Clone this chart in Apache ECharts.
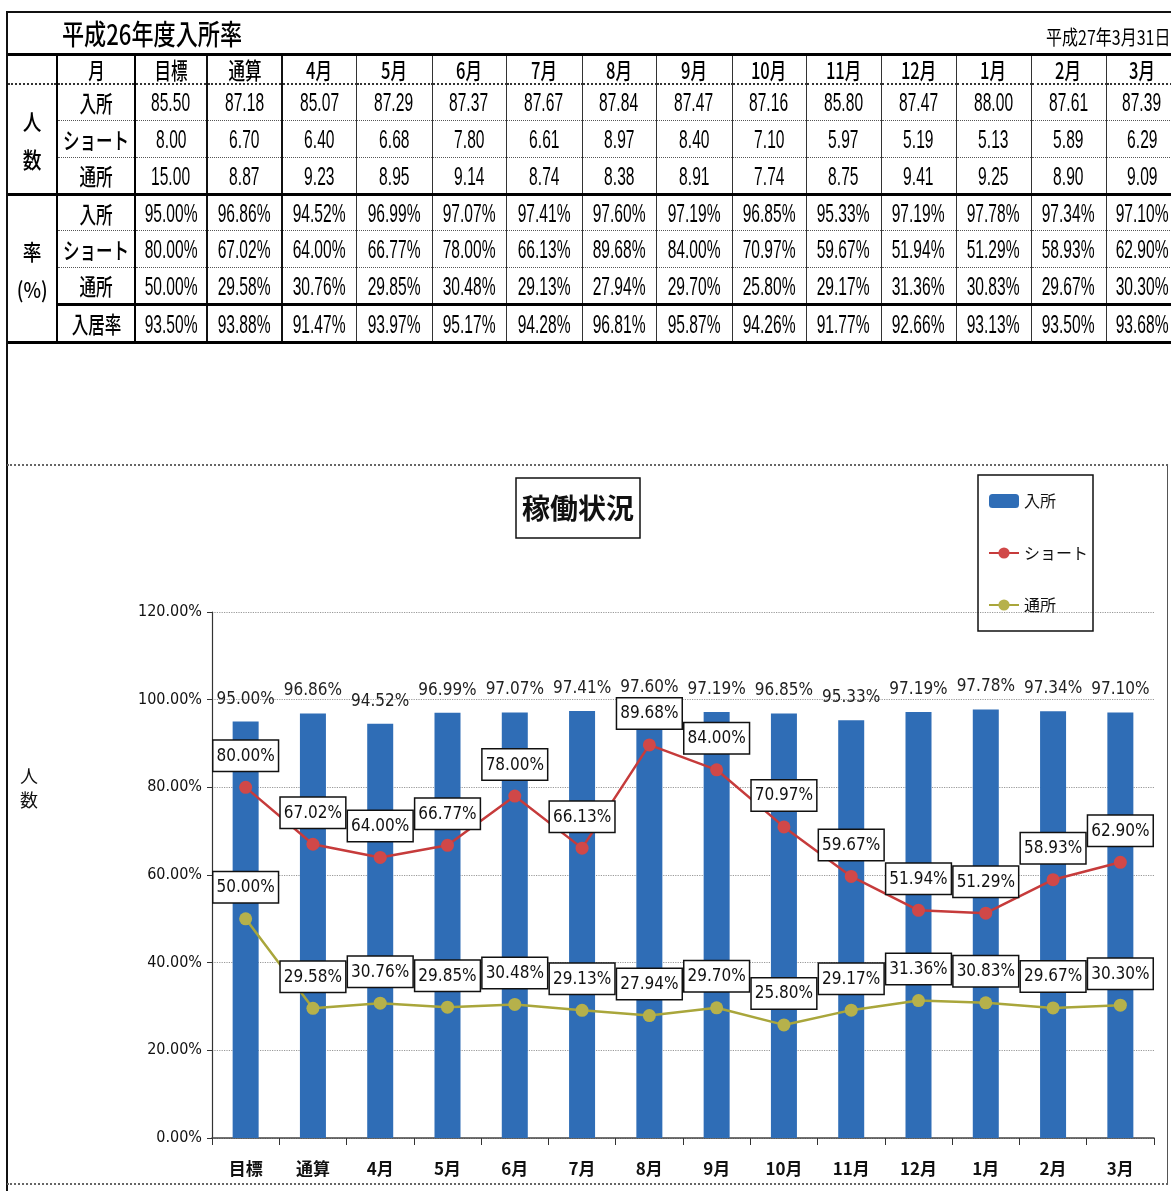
<!DOCTYPE html>
<html><head><meta charset="utf-8">
<script src="https://cdn.jsdelivr.net/npm/echarts@6/dist/echarts.min.js"></script>
<style>
html,body{margin:0;padding:0;width:1171px;height:1191px;overflow:hidden;background:#fff;}
#chart{position:absolute;left:0;top:0;width:1171px;height:1191px;}
#frame{position:absolute;left:6px;top:11px;width:1200px;height:1220px;border-left:2px solid #111;border-top:2px solid #111;box-sizing:border-box;pointer-events:none;z-index:3;}
#cbox{position:absolute;left:7px;top:464px;width:1161px;height:721px;border-top:2px dotted #666;border-right:1.5px solid #555;border-bottom:2px dotted #666;box-sizing:border-box;pointer-events:none;z-index:3;}
#ttl{position:absolute;left:62px;top:16px;font-family:'Noto Sans CJK JP',sans-serif;font-size:28px;font-weight:500;line-height:34px;transform:scaleX(0.79);transform-origin:left center;white-space:nowrap;z-index:4;}
#date{position:absolute;right:1px;top:24px;font-family:'Noto Sans CJK JP',sans-serif;font-size:20px;line-height:26px;transform:scaleX(0.8);transform-origin:right center;white-space:nowrap;z-index:4;}
#tbl{position:absolute;left:8px;top:53px;border-collapse:collapse;table-layout:fixed;z-index:4;color:#000;}
#tbl td{padding:0;border-right:1px solid #333;border-bottom:1px dotted #555;vertical-align:middle;overflow:visible;}
#tbl tr.top td{border-top:3px solid #000;}
#tbl tr.hdr td{border-bottom:2px dotted #333;}
#tbl tr.gend td{border-bottom:3px solid #000;}
#tbl td.grp{border-right:2px solid #000;border-bottom:3px solid #000;}
#tbl td.lab{border-right:2px solid #000;}
#tbl td.c0{border-right:2px solid #111;}
#tbl td.c1{border-right:2px solid #111;}
.c{display:flex;justify-content:center;align-items:center;width:100%;white-space:nowrap;}
.n{display:inline-block;font-family:'Liberation Sans',Arial,sans-serif;font-size:26px;line-height:1;transform:scaleX(0.6);}
.j{display:inline-block;font-family:'Noto Sans CJK JP',sans-serif;font-size:23px;font-weight:500;line-height:1;transform:scaleX(0.72);}
.g{display:inline-block;font-family:'Noto Sans CJK JP',sans-serif;font-size:22px;font-weight:500;line-height:38px;text-align:center;transform:scaleX(0.85);}
</style></head>
<body>
<div id="chart"></div>
<div id="frame"></div>
<div id="cbox"></div>
<div id="ttl">平成26年度入所率</div>
<div id="date">平成27年3月31日</div>
<table id="tbl"></table>
<script>
// ---- data ----
const categories = ['目標','通算','4月','5月','6月','7月','8月','9月','10月','11月','12月','1月','2月','3月'];
const headerLabel = '月';
const countLabels = ['入所','ショート','通所'];
const rateLabels = ['入所','ショート','通所','入居率'];
const countNyusho = [85.50, 87.18, 85.07, 87.29, 87.37, 87.67, 87.84, 87.47, 87.16, 85.80, 87.47, 88.00, 87.61, 87.39];
const countShort  = [8.00, 6.70, 6.40, 6.68, 7.80, 6.61, 8.97, 8.40, 7.10, 5.97, 5.19, 5.13, 5.89, 6.29];
const countTsusho = [15.00, 8.87, 9.23, 8.95, 9.14, 8.74, 8.38, 8.91, 7.74, 8.75, 9.41, 9.25, 8.90, 9.09];
const rateNyusho  = [95.00, 96.86, 94.52, 96.99, 97.07, 97.41, 97.60, 97.19, 96.85, 95.33, 97.19, 97.78, 97.34, 97.10];
const rateShort   = [80.00, 67.02, 64.00, 66.77, 78.00, 66.13, 89.68, 84.00, 70.97, 59.67, 51.94, 51.29, 58.93, 62.90];
const rateTsusho  = [50.00, 29.58, 30.76, 29.85, 30.48, 29.13, 27.94, 29.70, 25.80, 29.17, 31.36, 30.83, 29.67, 30.30];
const occupancy   = [93.50, 93.88, 91.47, 93.97, 95.17, 94.28, 96.81, 95.87, 94.26, 91.77, 92.66, 93.13, 93.50, 93.68];
const yTicks = [0, 20, 40, 60, 80, 100, 120];
const seriesNames = ['入所','ショート','通所'];

// ---- table ----
const colW = [49,78,72,75,74,76,74,76,74,76,74,75,75,75,75,72];
const rowH = [29,37,37,37,36,37,37,38];
const tbl = document.getElementById('tbl');
tbl.style.width = colW.reduce((a,b)=>a+b,0) + 'px';
let html = '<colgroup>' + colW.map(w => `<col style="width:${w}px">`).join('') + '</colgroup>';
const numCells = (arr, pct) => arr.map((v,i) => `<td class="${i===0?'c0':i===1?'c1':''}"><div class="c"><span class="n">${v.toFixed(2)}${pct?'%':''}</span></div></td>`).join('');
html += `<tr class="top hdr" style="height:${rowH[0]}px"><td class="lab"></td><td class="lab"><div class="c"><span class="j">${headerLabel}</span></div></td>` +
  categories.map((c,i) => `<td class="${i===0?'c0':i===1?'c1':''}"><div class="c"><span class="j">${c}</span></div></td>`).join('') + '</tr>';
const countRows = [countNyusho, countShort, countTsusho];
countRows.forEach((arr, r) => {
  const cls = r === 2 ? 'gend' : '';
  html += `<tr class="${cls}" style="height:${rowH[1+r]}px">` +
    (r === 0 ? `<td class="grp" rowspan="3"><div class="c"><span class="g">人<br>数</span></div></td>` : '') +
    `<td class="lab"><div class="c"><span class="j">${countLabels[r]}</span></div></td>` + numCells(arr, false) + '</tr>';
});
const rateRows = [rateNyusho, rateShort, rateTsusho, occupancy];
rateRows.forEach((arr, r) => {
  const cls = r >= 2 ? 'gend' : '';
  html += `<tr class="${cls}" style="height:${rowH[4+r]}px">` +
    (r === 0 ? `<td class="grp" rowspan="4"><div class="c"><span class="g">率<br>(%)</span></div></td>` : '') +
    `<td class="lab"><div class="c"><span class="j">${rateLabels[r]}</span></div></td>` + numCells(arr, true) + '</tr>';
});
tbl.innerHTML = html;

// ---- chart ----
const FONT = "'Liberation Sans Narrow','DejaVu Sans Condensed','Noto Sans CJK JP',sans-serif";
const chart = echarts.init(document.getElementById('chart'));
const pct = v => (typeof v === 'number' ? v : v.value).toFixed(2) + '%';
const boxLabel = {
  show: true, position: 'top', distance: 10,
  formatter: p => pct(p.value),
  fontFamily: FONT, fontSize: 17, color: '#111',
  backgroundColor: '#fff', borderColor: '#111', borderWidth: 1.5,
  padding: [7, 3, 6, 3]
};
chart.setOption({
  animation: false,
  textStyle: { fontFamily: FONT },
  title: {
    text: '稼働状況', left: 516, top: 478,
    borderColor: '#111', borderWidth: 1.5, padding: [13, 6],
    textStyle: { fontFamily: "'Noto Sans CJK JP',sans-serif", fontSize: 28, fontWeight: 'bold', color: '#111', lineHeight: 34 }
  },
  legend: {
    orient: 'vertical', left: 978, top: 475,
    borderColor: '#111', borderWidth: 1.5,
    padding: [18, 5, 18, 10], itemGap: 36,
    itemWidth: 30, itemHeight: 14,
    textStyle: { fontFamily: "'Noto Sans CJK JP',sans-serif", fontSize: 16, color: '#111' },
    data: seriesNames
  },
  graphic: [{
    type: 'text', left: 20, top: 764,
    style: { text: '人\n数', font: "18px 'Noto Sans CJK JP'", lineHeight: 24, fill: '#111' }
  }],
  grid: { left: 212, right: 17, top: 612, bottom: 53 },
  xAxis: {
    type: 'category', data: categories,
    axisLine: { lineStyle: { color: '#444', width: 1.5 } },
    axisTick: { show: true, interval: 0, length: 7, lineStyle: { color: '#333' } },
    axisLabel: { interval: 0, margin: 22, fontSize: 17, fontWeight: 'bold', color: '#111', fontFamily: "'Noto Sans CJK JP',sans-serif" }
  },
  yAxis: {
    type: 'value', min: yTicks[0], max: yTicks[yTicks.length-1], interval: yTicks[1]-yTicks[0],
    axisLine: { show: true, lineStyle: { color: '#333', width: 1.2 } },
    axisTick: { show: true, length: 5, lineStyle: { color: '#333' } },
    axisLabel: { formatter: v => v.toFixed(2) + '%', fontSize: 16, color: '#111', margin: 10 },
    splitLine: { lineStyle: { color: '#999', type: 'dotted', width: 1.2 } }
  },
  series: [
    {
      name: seriesNames[0], type: 'bar', data: rateNyusho, barWidth: 26,
      itemStyle: { color: '#2F6DB6' },
      label: { show: true, position: 'top', distance: 14, formatter: p => pct(p.value), fontSize: 17, color: '#222', fontFamily: FONT }
    },
    {
      name: seriesNames[1], type: 'line', data: rateShort,
      symbol: 'circle', symbolSize: 13,
      lineStyle: { color: '#C63B3B', width: 2.5 },
      itemStyle: { color: '#D04848' },
      label: boxLabel, z: 5
    },
    {
      name: seriesNames[2], type: 'line', data: rateTsusho,
      symbol: 'circle', symbolSize: 13,
      lineStyle: { color: '#A9A63B', width: 2.5 },
      itemStyle: { color: '#B6B14B' },
      label: boxLabel, z: 5
    }
  ]
});
</script>
</body></html>
